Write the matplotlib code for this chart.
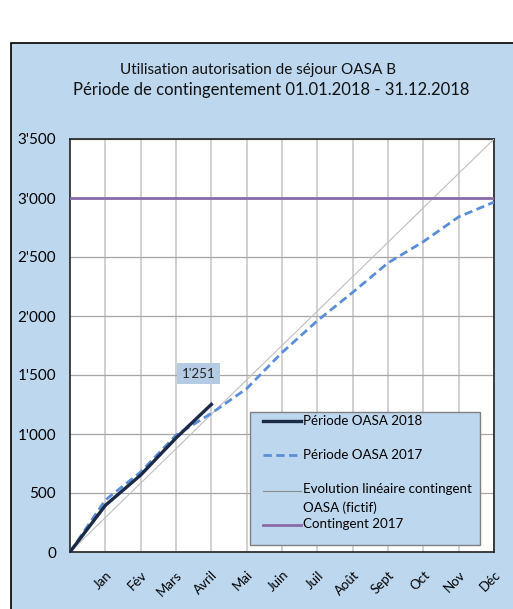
import numpy as np
import matplotlib.pyplot as plt
from matplotlib.patches import Rectangle
from matplotlib.ticker import FuncFormatter

plt.rcParams['font.family'] = ['Lato', 'DejaVu Sans']

# data
months = ['Jan', 'Fév', 'Mars', 'Avril', 'Mai', 'Juin', 'Juil', 'Août', 'Sept', 'Oct', 'Nov', 'Déc']
oasa2018 = [0, 395, 652, 966, 1251]
oasa2017 = [0, 440, 678, 990, 1175, 1385, 1690, 1960, 2200, 2450, 2630, 2840, 2965]
lineaire = [0, 3500]
contingent = 3000
last_label = "1'251"

BG = '#BDD7EE'

fig = plt.figure(figsize=(5.13, 6.09), dpi=100)
fig.patch.set_facecolor('white')
fig.patches.append(Rectangle((11/513, -0.01), 1.0, 1.01 - 43/609, transform=fig.transFigure,
                             facecolor=BG, edgecolor='black', linewidth=1.2, zorder=0))

ax = fig.add_axes([70/513, 57/609, 424/513, 413/609])
ax.set_zorder(2)
ax.set_facecolor('white')

x18 = np.arange(len(oasa2018))
x17 = np.arange(len(oasa2017))

# blank lines in labels give the uneven spacing of the original legend
ax.plot(x18, oasa2018, color='#1B2A47', lw=2.4, label='Période OASA 2018', zorder=5)
ax.plot(x17, oasa2017, color='#5B8ED8', lw=2, ls=(0, (3, 1.6)),
        label='\nPériode OASA 2017\n', zorder=4)
ax.plot([0, 12], lineaire, color='#BFBFBF', lw=0.8,
        label='Evolution linéaire contingent\nOASA (fictif)', zorder=3)
ax.axhline(contingent, color='#8B6BA8', lw=2, label='Contingent 2017\n', zorder=3)

ax.set_xlim(0, 12)
ax.set_ylim(0, 3500)
ax.set_xticks(np.arange(1, 13))
ax.set_xticklabels(months, rotation=45, ha='right', rotation_mode='anchor', fontsize=9.5)
ax.set_yticks(np.arange(0, 3501, 500))
ax.yaxis.set_major_formatter(FuncFormatter(lambda v, p: f"{int(v):,}".replace(',', "'")))
ax.tick_params(axis='y', length=0, labelsize=11, pad=10)
ax.tick_params(axis='x', length=0, pad=12)
ax.grid(axis='x', color='#D0D0D0', lw=1.4)
ax.grid(axis='y', color='#A6A6A6', lw=0.9)
ax.set_axisbelow(True)
for s in ax.spines.values():
    s.set_color('#222222')
    s.set_linewidth(1.2)

ax.annotate(last_label, xy=(x18[-1], oasa2018[-1]), xytext=(-9, 22), textcoords='offset points',
            ha='center', va='center', fontsize=9.5, color='#222222',
            bbox=dict(boxstyle='square,pad=0.35', facecolor='#B4CBE3', edgecolor='none'))

leg = ax.legend(loc='upper left', bbox_to_anchor=(0.4245, 0.339, 0.543, 0.0), mode='expand',
                fontsize=9.6, frameon=True, fancybox=False, borderaxespad=0,
                handlelength=3.6, handletextpad=0.1, labelspacing=0.25, borderpad=0.25)
leg.get_frame().set_facecolor(BG)
leg.get_frame().set_edgecolor('#808080')
leg.get_frame().set_alpha(1)
texts = leg.get_texts()
for t in texts:
    t.set_linespacing(1.65)
texts[3].set_linespacing(1.0)
lines = leg.get_lines()
lines[2].set_color('#8C8C8C')
for i, ln in enumerate(lines):
    xd = np.array(ln.get_xdata(), dtype=float)
    xd[0] = xd[0] + 7
    ln.set_xdata(xd)
    if i == 2:
        ln.set_ydata(np.array(ln.get_ydata(), dtype=float) + 6.1)
    if i == 3:
        ln.set_ydata(np.array(ln.get_ydata(), dtype=float) + 3.7)

fig.text(258/513, 1 - 70/609, 'Utilisation autorisation de séjour OASA B', ha='center', va='center',
         fontsize=11, color='#111111')
fig.text(271/513, 1 - 90/609, 'Période de contingentement 01.01.2018 - 31.12.2018', ha='center',
         va='center', fontsize=12, color='#111111')

fig.savefig('out.png', dpi=100)
